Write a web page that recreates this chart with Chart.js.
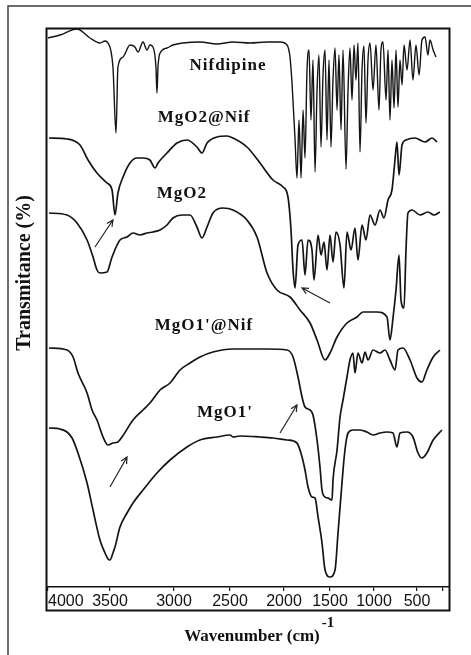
<!DOCTYPE html>
<html><head><meta charset="utf-8">
<script src="https://cdn.jsdelivr.net/npm/chart.js@4.4.1/dist/chart.umd.min.js"></script>
<style>html,body{margin:0;padding:0;background:#fff;} #wrap{width:471px;height:655px;position:relative;}</style>
</head><body><div id="wrap"><canvas id="c" width="471" height="655"></canvas></div>
<script>
// ---------- data (wavenumber in cm-1, transmittance in arbitrary offset units) ----------
const nifWn = [4000,3903,3766,3661,3581,3540,3516,3477,3453,3438,3398,3344,3305,3281,3242,3211,3188,3164,3141,3133,3125,3109,3055,3008,2920,2768,2616,2472,2315,2157,2037,1967,1935,1913,1880,1859,1837,1815,1793,1772,1750,1728,1707,1685,1663,1641,1620,1598,1576,1554,1533,1511,1489,1466,1443,1420,1398,1375,1352,1318,1295,1273,1250,1227,1205,1182,1159,1136,1114,1091,1068,1045,1011,977,942,919,895,860,837,814,791,767,744,721,698,674,651,616,581,547,512,492,481,469,458,450,438,427];
const nifT  = [549,552,558,549,544,546,544,520,454,520,530,542,540,535,545,537,542,540,520,494,520,534,539,542,544,545,543,545,544,545,545,542,530,504,447,409,467,409,477,429,517,537,467,527,415,497,532,440,512,537,447,527,440,507,539,477,532,457,537,418,497,539,487,542,507,544,435,517,541,464,527,544,497,542,477,537,545,487,537,467,527,479,537,480,527,502,542,517,547,507,542,512,547,550,532,547,537,530];

const mgo2NifWn = [3992,3847,3742,3677,3605,3524,3484,3461,3438,3398,3344,3289,3242,3188,3148,3125,3055,2973,2884,2795,2750,2705,2616,2527,2472,2343,2222,2102,2009,1957,1924,1902,1880,1848,1804,1772,1739,1696,1674,1630,1598,1565,1533,1500,1466,1432,1386,1341,1307,1261,1216,1182,1136,1091,1045,988,930,884,837,791,756,733,709,674,628,523,469,442,423];
const mgo2NifT  = [449,448,442,427,414,404,397,372,394,410,424,429,429,427,419,424,434,444,447,440,434,444,450,451,449,440,424,407,400,390,357,317,299,342,347,312,347,337,307,352,332,345,317,352,325,355,342,299,355,337,359,327,362,347,372,362,377,369,387,397,427,445,412,442,447,449,445,449,445];

const mgo2Wn = [3992,3847,3766,3685,3637,3605,3581,3524,3484,3422,3367,3320,3266,3211,3164,3109,3055,3008,2929,2857,2795,2750,2705,2652,2562,2472,2343,2250,2157,2065,1935,1826,1717,1641,1554,1500,1420,1307,1193,1125,965,849,814,779,744,709,686,651,628,605,558,488,458,435,412];
const mgo2T  = [374,372,364,347,330,317,314,315,330,347,350,354,352,354,355,357,362,369,372,372,360,349,360,374,379,377,367,350,314,297,290,277,264,247,227,234,250,264,270,275,275,270,247,269,297,332,287,279,337,374,377,372,375,372,375];

const mgo1NifWn = [3992,3847,3798,3758,3685,3645,3605,3556,3516,3477,3438,3406,3320,3242,3188,3109,3031,2946,2857,2768,2652,2472,2157,1967,1902,1848,1804,1772,1717,1685,1641,1609,1587,1554,1522,1477,1466,1420,1386,1352,1307,1273,1239,1216,1182,1136,1102,1068,1011,930,872,814,756,721,663,581,500,481,462,438,412];
const mgo1NifT  = [239,237,230,214,194,177,167,150,142,144,145,150,167,177,184,197,204,217,224,230,235,238,238,237,230,210,190,180,177,172,147,120,97,90,89,87,107,137,170,187,210,227,234,214,234,224,235,227,237,234,237,227,217,237,239,227,209,205,217,230,237];

const mgo1Wn = [3992,3903,3847,3806,3758,3685,3637,3581,3540,3516,3500,3477,3461,3422,3367,3320,3242,3133,3031,2884,2768,2616,2500,2472,2407,2222,2102,1967,1859,1804,1772,1739,1696,1663,1630,1587,1554,1500,1443,1409,1364,1330,1295,1239,1159,1080,1011,930,849,779,733,698,616,547,496,481,462,438,404];
const mgo1T  = [159,158,155,149,134,104,77,47,34,28,27,34,40,60,74,84,97,114,127,140,147,150,152,150,151,150,149,147,144,130,117,100,90,89,70,44,17,10,17,54,104,137,154,157,157,155,152,154,155,154,140,154,155,150,134,129,134,147,157];

const tickWn = [4000,3500,3000,2500,2000,1500,1000,500,400];
const tickLabels = ['4000','3500','3000','2500','2000','1500','1000','500',''];

const seriesLabels = ['Nifdipine','MgO2@Nif','MgO2',"MgO1'@Nif","MgO1'"];
const seriesLabelWn = [2518,2732,2929,2732,2545];
const seriesLabelT  = [521,469,393,261,174];

const arrowFromWn = [3621,1500,3500,2037];
const arrowFromT  = [340,284,100,154];
const arrowToWn   = [3477,1804,3367,1859];
const arrowToT    = [367,299,130,182];

// ---------- non-uniform FTIR wavenumber axis (breaks in wavenumber -> fraction of width) ----------
const AXIS_WN   = [4008,4000,3500,3000,2500,2000,1500,1000,500,400,377];
const AXIS_FRAC = [0,0.0025,0.1567,0.3159,0.4552,0.5896,0.7040,0.8134,0.9204,0.9851,1];
function wnToFrac(w){
  const n = AXIS_WN.length;
  let i = 0;
  if (w >= AXIS_WN[0]) i = 0;
  else if (w <= AXIS_WN[n-1]) i = n-2;
  else { while (i < n-2 && !(w <= AXIS_WN[i] && w >= AXIS_WN[i+1])) i++; }
  const t = (w - AXIS_WN[i]) / (AXIS_WN[i+1] - AXIS_WN[i]);
  return AXIS_FRAC[i] + t * (AXIS_FRAC[i+1] - AXIS_FRAC[i]);
}
function fracToWn(f){
  const n = AXIS_FRAC.length;
  let i = 0;
  while (i < n-2 && f > AXIS_FRAC[i+1]) i++;
  const t = (f - AXIS_FRAC[i]) / (AXIS_FRAC[i+1] - AXIS_FRAC[i]);
  return AXIS_WN[i] + t * (AXIS_WN[i+1] - AXIS_WN[i]);
}
class WavenumberScale extends Chart.LinearScale {
  getPixelForValue(value){
    if (value === null || value === undefined || isNaN(value)) return NaN;
    return this.getPixelForDecimal(wnToFrac(value));
  }
  getValueForPixel(pixel){ return fracToWn(this.getDecimalForPixel(pixel)); }
}
WavenumberScale.id = 'wavenumber';
WavenumberScale.defaults = Chart.LinearScale.defaults;
Chart.register(WavenumberScale);

function ds(label, wn, t, w){
  return { label, data: wn.map((x,i)=>({x, y:t[i]})), borderColor:'#141414', borderWidth:w,
           pointRadius:0, fill:false, cubicInterpolationMode:'monotone' };
}

const serif = '"Liberation Serif","Times New Roman",serif';

const decor = {
  id:'decor',
  afterDraw(chart){
    const ctx = chart.ctx, xs = chart.scales.x, ys = chart.scales.y, a = chart.chartArea;
    ctx.save();
    // outer border (left + top)
    ctx.strokeStyle = '#3c3c3c'; ctx.lineWidth = 1.5;
    ctx.beginPath(); ctx.moveTo(8, 655); ctx.lineTo(8, 6); ctx.lineTo(471, 6); ctx.stroke();
    // plot frame
    ctx.strokeStyle = '#111'; ctx.lineWidth = 2;
    ctx.strokeRect(a.left - 0.5, a.top + 0.5, a.right - a.left + 1, xs.bottom - a.top);
    // series labels
    ctx.fillStyle = '#111';
    ctx.font = 'bold 17px ' + serif;
    ctx.textAlign = 'center'; ctx.textBaseline = 'middle';
    try { ctx.letterSpacing = '1px'; } catch(e) {}
    seriesLabels.forEach((s,i)=>{
      ctx.fillText(s, xs.getPixelForValue(seriesLabelWn[i]), ys.getPixelForValue(seriesLabelT[i]));
    });
    try { ctx.letterSpacing = '0px'; } catch(e) {}
    // arrows
    ctx.strokeStyle = '#222'; ctx.lineWidth = 1.2;
    arrowFromWn.forEach((w,i)=>{
      const x1 = xs.getPixelForValue(w), y1 = ys.getPixelForValue(arrowFromT[i]);
      const x2 = xs.getPixelForValue(arrowToWn[i]), y2 = ys.getPixelForValue(arrowToT[i]);
      const ang = Math.atan2(y2 - y1, x2 - x1), L = 7, sp = 0.45;
      ctx.beginPath(); ctx.moveTo(x1,y1); ctx.lineTo(x2,y2);
      ctx.moveTo(x2 - L*Math.cos(ang - sp), y2 - L*Math.sin(ang - sp)); ctx.lineTo(x2,y2);
      ctx.lineTo(x2 - L*Math.cos(ang + sp), y2 - L*Math.sin(ang + sp));
      ctx.stroke();
    });
    // y title
    ctx.save();
    ctx.translate(25, 273); ctx.rotate(-Math.PI/2);
    ctx.font = 'bold 20px ' + serif; ctx.textAlign = 'center'; ctx.textBaseline = 'middle';
    ctx.fillText('Transmitance (%)', 0, 0);
    ctx.restore();
    // x title with superscript
    ctx.font = 'bold 17px ' + serif; ctx.textAlign = 'center'; ctx.textBaseline = 'alphabetic';
    const main = 'Wavenumber (cm)';
    const mw = ctx.measureText(main).width;
    const cx = 252;
    ctx.fillText(main, cx, 641);
    ctx.font = 'bold 15px ' + serif; ctx.textAlign = 'left';
    ctx.fillText('-1', cx + mw/2 + 2, 627);
    ctx.restore();
  }
};

new Chart(document.getElementById('c'), {
  type:'line',
  data:{ datasets:[
    ds('Nifdipine', nifWn, nifT, 1.4),
    ds('MgO2@Nif', mgo2NifWn, mgo2NifT, 1.7),
    ds('MgO2', mgo2Wn, mgo2T, 1.7),
    ds("MgO1'@Nif", mgo1NifWn, mgo1NifT, 1.7),
    ds("MgO1'", mgo1Wn, mgo1T, 1.7)
  ]},
  options:{
    responsive:false, animation:false, events:[],
    layout:{ padding:{ left:47, right:22, top:28, bottom:45 } },
    plugins:{ legend:{display:false}, tooltip:{enabled:false} },
    scales:{
      x:{ type:'wavenumber', min:377, max:4008,
          afterBuildTicks: s => { s.ticks = tickWn.map(v=>({value:v})); },
          afterFit: s => { s.height = 23; },
          grid:{ display:true, drawOnChartArea:false, drawTicks:true, tickLength:4, color:'#111', lineWidth:1.2 },
          border:{ display:true, color:'#111', width:1.5 },
          ticks:{ autoSkip:false, maxRotation:0, minRotation:0, align:'inner', padding:1, color:'#111',
                  font:{ family:'"Liberation Sans", Arial, sans-serif', size:16 },
                  callback: (v, i) => tickLabels[i] } },
      y:{ type:'linear', min:0, max:559, display:false }
    }
  },
  plugins:[decor]
});
</script></body></html>
